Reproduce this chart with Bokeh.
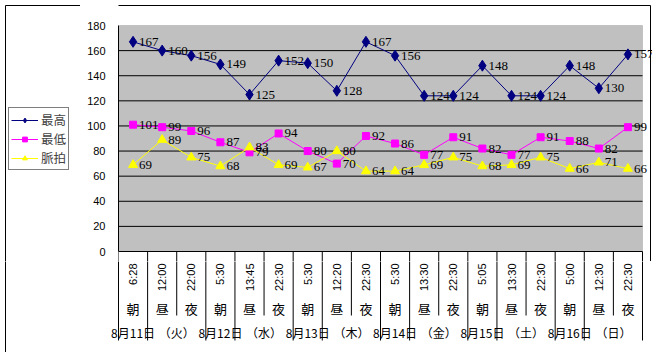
import numpy as np
from bokeh.plotting import figure
from bokeh.layouts import row, column
from bokeh.core.properties import value
from bokeh.models import (Range1d, LinearAxis, FixedTicker, ColumnDataSource,
                          LabelSet, Legend, LegendItem, BoxAnnotation)
from bokeh.embed import file_html
from bokeh.resources import INLINE

# ---------------- data ----------------
times = ["6:28", "12:00", "22:00", "5:30", "13:45", "22:30", "5:30", "12:20", "22:30",
         "5:30", "13:30", "22:30", "5:05", "13:30", "22:30", "5:00", "12:30", "22:30"]
periods = ["朝", "昼", "夜"] * 6
dates = ["8月11日", "8月12日", "8月13日", "8月14日", "8月15日", "8月16日"]
weekdays = ["（火）", "（水）", "（木）", "（金）", "（土）", "（日）"]
high = [167, 160, 156, 149, 125, 152, 150, 128, 167, 156, 124, 124, 148, 124, 124, 148, 130, 157]
low = [101, 99, 96, 87, 79, 94, 80, 70, 92, 86, 77, 91, 82, 77, 91, 88, 82, 99]
pulse = [69, 89, 75, 68, 83, 69, 67, 80, 64, 64, 69, 75, 68, 69, 75, 66, 71, 66]
series_names = ["最高", "最低", "脈拍"]
y_ticks = list(range(0, 181, 20))

# ---------------- geometry / style ----------------
W, H = 652, 352
WA = 80                      # width of the legend strip on the left
FL, FR, FT, FB = 118, 642, 25, 251
HT = 261                     # height of the upper (chart) row
BX, BY, BR = 5, 5, 650       # outer chart border
n = len(times)
xs = (FR - FL) / n
ys = (FB - FT) / 180.0
JP = "Noto Sans CJK JP"
NUM = "Liberation Sans"
colors = ["#000080", "#FF00FF", "#FFFF00"]
markers = ["diamond", "square", "triangle"]
sizes = [11, 7, 9]


def x_at(px):
    return (px - FL) / xs


def plain(fig):
    fig.outline_line_color = None
    fig.background_fill_color = "white"
    fig.border_fill_color = "white"
    return fig


# ---------------- left strip: legend + border ----------------
a = plain(figure(width=WA, height=HT, x_range=Range1d(0, WA), y_range=Range1d(-HT, 0),
                 output_backend="svg", toolbar_location=None, x_axis_type=None,
                 y_axis_type=None, min_border_left=0, min_border_right=0,
                 min_border_top=0, min_border_bottom=0))
a.segment(x0=[BX, BX], y0=[-BY, -BY], x1=[BX, WA], y1=[-HT, -BY], line_color="black",
          line_width=1)
items = []
for name, c, m, s in zip(series_names, colors, markers, sizes):
    # off-view placeholder renderers: they only supply the legend glyph styling
    lr = a.line(x=[-999, -998], y=[-999, -999], line_color=c, line_width=1)
    sr = a.scatter(x=[-999], y=[-999], marker=m, size=s, fill_color=c, line_color=c)
    items.append(LegendItem(label=name, renderers=[lr, sr]))
legend = Legend(items=items, location=(8, HT - 170), border_line_color="black",
                border_line_width=1, background_fill_color="white", background_fill_alpha=1,
                label_text_font=JP, label_text_font_size="12.5px",
                glyph_width=27, glyph_height=12, label_height=12, spacing=0,
                padding=2, margin=0, label_standoff=3)
a.add_layout(legend)

# ---------------- main chart ----------------
x_end = n * (W - FL) / (FR - FL)
y_top = 180 + FT / ys
y_bot = -(HT - FB) / ys
p = plain(figure(width=W - WA, height=HT, x_range=Range1d(0, x_end),
                 y_range=Range1d(y_bot, y_top),
                 output_backend="svg", toolbar_location=None,
                 x_axis_type=None, y_axis_type=None,
                 min_border_left=FL - WA, min_border_right=0,
                 min_border_top=0, min_border_bottom=0))

p.add_layout(BoxAnnotation(left=0, right=n, bottom=0, top=180, fill_color="#C0C0C0",
                           fill_alpha=1, line_color="#808080", line_width=1,
                           level="underlay"))
gy = [t for t in y_ticks if 0 < t < 180]
p.segment(x0=[0] * len(gy), x1=[n] * len(gy), y0=gy, y1=gy, line_color="black",
          line_width=1)
p.segment(x0=[0], x1=[n], y0=[0], y1=[0], line_color="black", line_width=1)
bounds_all = list(range(n + 1))
p.segment(x0=bounds_all, x1=bounds_all, y0=[0] * len(bounds_all),
          y1=[y_bot - 1] * len(bounds_all), line_color="black", line_width=1)
bt = 180 + (FT - BY) / ys
br = x_at(BR)
p.segment(x0=[-5, br], y0=[bt, bt], x1=[br, br], y1=[bt, y_bot - 1], line_color="black",
          line_width=1)

yaxis = LinearAxis(ticker=FixedTicker(ticks=y_ticks), bounds=(0, 180),
                   major_tick_out=0, major_tick_in=0,
                   minor_tick_line_color=None, major_label_standoff=13,
                   axis_line_color="black", major_label_text_font=NUM,
                   major_label_text_font_size="11px", major_label_text_color="black")
p.add_layout(yaxis, "left")

xc = [i + 0.5 for i in range(n)]
src = ColumnDataSource(dict(
    x=xc, high=high, low=low, pulse=pulse,
    high_t=[str(v) for v in high], low_t=[str(v) for v in low],
    pulse_t=[str(v) for v in pulse]))

fields = ["high", "low", "pulse"]
for f, c, m, s in zip(fields, colors, markers, sizes):
    p.line("x", f, source=src, line_color=c, line_width=1)
    p.scatter("x", f, source=src, marker=m, size=s, fill_color=c, line_color=c)

for f in fields:
    p.add_layout(LabelSet(x="x", y=f, text=f + "_t", source=src, x_offset=6,
                          text_baseline="middle", text_font=NUM,
                          text_font_size="13px", text_color="black"))

# ---------------- category label area (below the chart) ----------------
HD = H - HT
d = plain(figure(width=W, height=HD, x_range=Range1d(x_at(0), x_at(W)),
                 y_range=Range1d(-H, -HT), output_backend="svg", toolbar_location=None,
                 x_axis_type=None, y_axis_type=None, min_border_left=0,
                 min_border_right=0, min_border_top=0, min_border_bottom=0))
outer_bounds = sorted(set([3 * i for i in range(len(dates))] +
                          [3 * i + 1 for i in range(len(dates))] + [n]))
inner_bounds = [b for b in range(n + 1) if b not in outer_bounds]
d.segment(x0=inner_bounds, x1=inner_bounds, y0=[-HT + 1] * len(inner_bounds),
          y1=[-315] * len(inner_bounds), line_color="black", line_width=1)
d.segment(x0=outer_bounds, x1=outer_bounds, y0=[-HT + 1] * len(outer_bounds),
          y1=[-340] * len(outer_bounds), line_color="black", line_width=1)
d.segment(x0=[x_at(BX)], x1=[x_at(BX)], y0=[-HT + 1], y1=[-H], line_color="black",
          line_width=1)
d.text(x=xc, y=[-263] * n, text=times, angle=np.pi / 2, text_align="right",
       text_baseline="middle", text_font=value(NUM), text_font_size="11px",
       text_color="black")
d.text(x=xc, y=[-308] * n, text=periods, text_align="center", text_baseline="middle",
       text_font=value(JP), text_font_size="13px", text_color="black")
dpos = [3 * i + 0.5 for i in range(len(dates))]
wpos = [3 * i + 2.0 for i in range(len(weekdays))]
d.text(x=dpos + wpos, y=[-332] * (len(dpos) + len(wpos)), text=dates + weekdays,
       text_align="center", text_baseline="middle", text_font=value(JP),
       text_font_size="12px", text_color="black")

layout = column(row(a, p, spacing=0), d, spacing=0)
open("out.html", "w").write(file_html(layout, INLINE))
